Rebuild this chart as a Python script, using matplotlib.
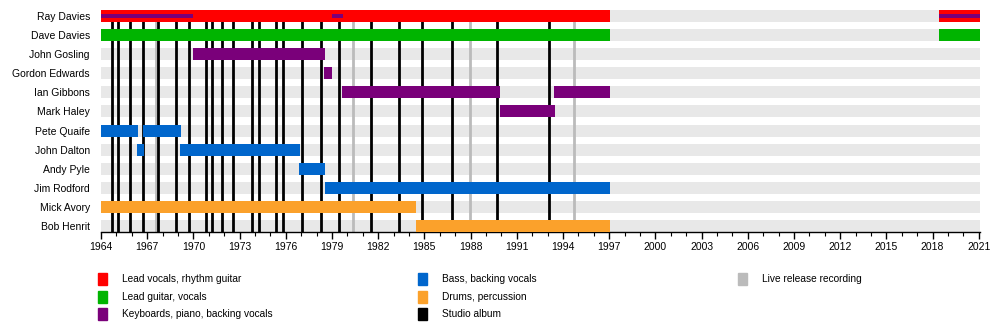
import matplotlib.pyplot as plt
from matplotlib.patches import Rectangle

plt.rcParams['font.family'] = ['Liberation Sans', 'DejaVu Sans']

members = ['Ray Davies', 'Dave Davies', 'John Gosling', 'Gordon Edwards', 'Ian Gibbons',
           'Mark Haley', 'Pete Quaife', 'John Dalton', 'Andy Pyle', 'Jim Rodford',
           'Mick Avory', 'Bob Henrit']

# (member, start, end, role)
periods = [
    ('Ray Davies', 1964.0, 1997.05, 'vocals'),
    ('Ray Davies', 2018.4, 2021.1, 'vocals'),
    ('Dave Davies', 1964.0, 1997.05, 'guitar'),
    ('Dave Davies', 2018.4, 2021.1, 'guitar'),
    ('John Gosling', 1969.97, 1978.53, 'keys'),
    ('Gordon Edwards', 1978.46, 1979.0, 'keys'),
    ('Ian Gibbons', 1979.65, 1989.94, 'keys'),
    ('Ian Gibbons', 1993.44, 1997.05, 'keys'),
    ('Mark Haley', 1989.9, 1993.5, 'keys'),
    ('Pete Quaife', 1964.0, 1966.38, 'bass'),
    ('Pete Quaife', 1966.74, 1969.19, 'bass'),
    ('John Dalton', 1966.33, 1966.79, 'bass'),
    ('John Dalton', 1969.14, 1976.9, 'bass'),
    ('Andy Pyle', 1976.84, 1978.53, 'bass'),
    ('Jim Rodford', 1978.53, 1997.05, 'bass'),
    ('Mick Avory', 1964.0, 1984.47, 'drums'),
    ('Bob Henrit', 1984.47, 1997.05, 'drums'),
]

# Ray Davies also on keyboards
ray_keys = [(1964.0, 1970.0), (1979.0, 1979.7), (2018.4, 2021.1)]

studio_albums = [1964.69, 1965.12, 1965.88, 1966.74, 1967.7, 1968.84, 1969.71, 1970.85,
                 1971.18, 1971.83, 1972.58, 1973.81, 1974.25, 1975.35, 1975.82, 1977.08,
                 1978.31, 1979.45, 1981.55, 1983.34, 1984.84, 1986.81, 1989.73, 1993.12]
live_albums = [1967.55, 1980.36, 1987.93, 1994.69]

role_colors = {'vocals': '#ff0000', 'guitar': '#00b400', 'keys': '#7a007a',
               'bass': '#0066cc', 'drums': '#fba12b'}
legend_items = [('Lead vocals, rhythm guitar', '#ff0000'),
                ('Lead guitar, vocals', '#00b400'),
                ('Keyboards, piano, backing vocals', '#7a007a'),
                ('Bass, backing vocals', '#0066cc'),
                ('Drums, percussion', '#fba12b'),
                ('Studio album', '#000000'),
                ('Live release recording', '#bbbbbb')]

x0, x1 = 1964.0, 2021.08
h = 0.63

fig = plt.figure(figsize=(10, 3.3), dpi=100)
ax = fig.add_axes([0.101, 1 - 232 / 330, 0.879, 222 / 330])

ypos = {m: i for i, m in enumerate(members)}

# background bands
for m, i in ypos.items():
    ax.barh(i, x1 - x0, left=x0, height=h, color='#e8e8e8', zorder=1)

for x in live_albums:
    ax.axvline(x, color='#bbbbbb', lw=2, zorder=2)
for x in studio_albums:
    ax.axvline(x, color='black', lw=2, zorder=2)

for m, s, e, r in periods:
    ax.barh(ypos[m], e - s, left=s, height=h, color=role_colors[r], zorder=3)
for s, e in ray_keys:
    ax.barh(0, e - s, left=s, height=0.22, color=role_colors['keys'], zorder=4)

ax.set_xlim(x0, x1)
ax.set_ylim(len(members) - 1 + h / 2, -h / 2)
ax.set_yticks(range(len(members)))
ax.set_yticklabels(members, fontsize=7.5)
ax.tick_params(axis='y', length=0, pad=8)
ax.set_xticks(range(1964, 2022, 3))
ax.set_xticks(range(1964, 2022), minor=True)
ax.tick_params(axis='x', which='major', length=5, width=1, labelsize=7.5, pad=2)
ax.tick_params(axis='x', which='minor', length=3, width=0.8)
for side in ['top', 'left', 'right']:
    ax.spines[side].set_visible(False)
ax.spines['bottom'].set_linewidth(1)

# legend
cols = [0.098, 0.418, 0.738]
rows = [1 - 279 / 330, 1 - 296.5 / 330, 1 - 314 / 330]
for k, (label, color) in enumerate(legend_items):
    c, r = k // 3, k % 3
    fig.patches.append(Rectangle((cols[c], rows[r] - 6 / 330), 0.009, 12 / 330,
                                 transform=fig.transFigure, color=color))
    fig.text(cols[c] + 0.024, rows[r], label, fontsize=7.3, va='center', ha='left')

fig.savefig('out.png', dpi=100)
